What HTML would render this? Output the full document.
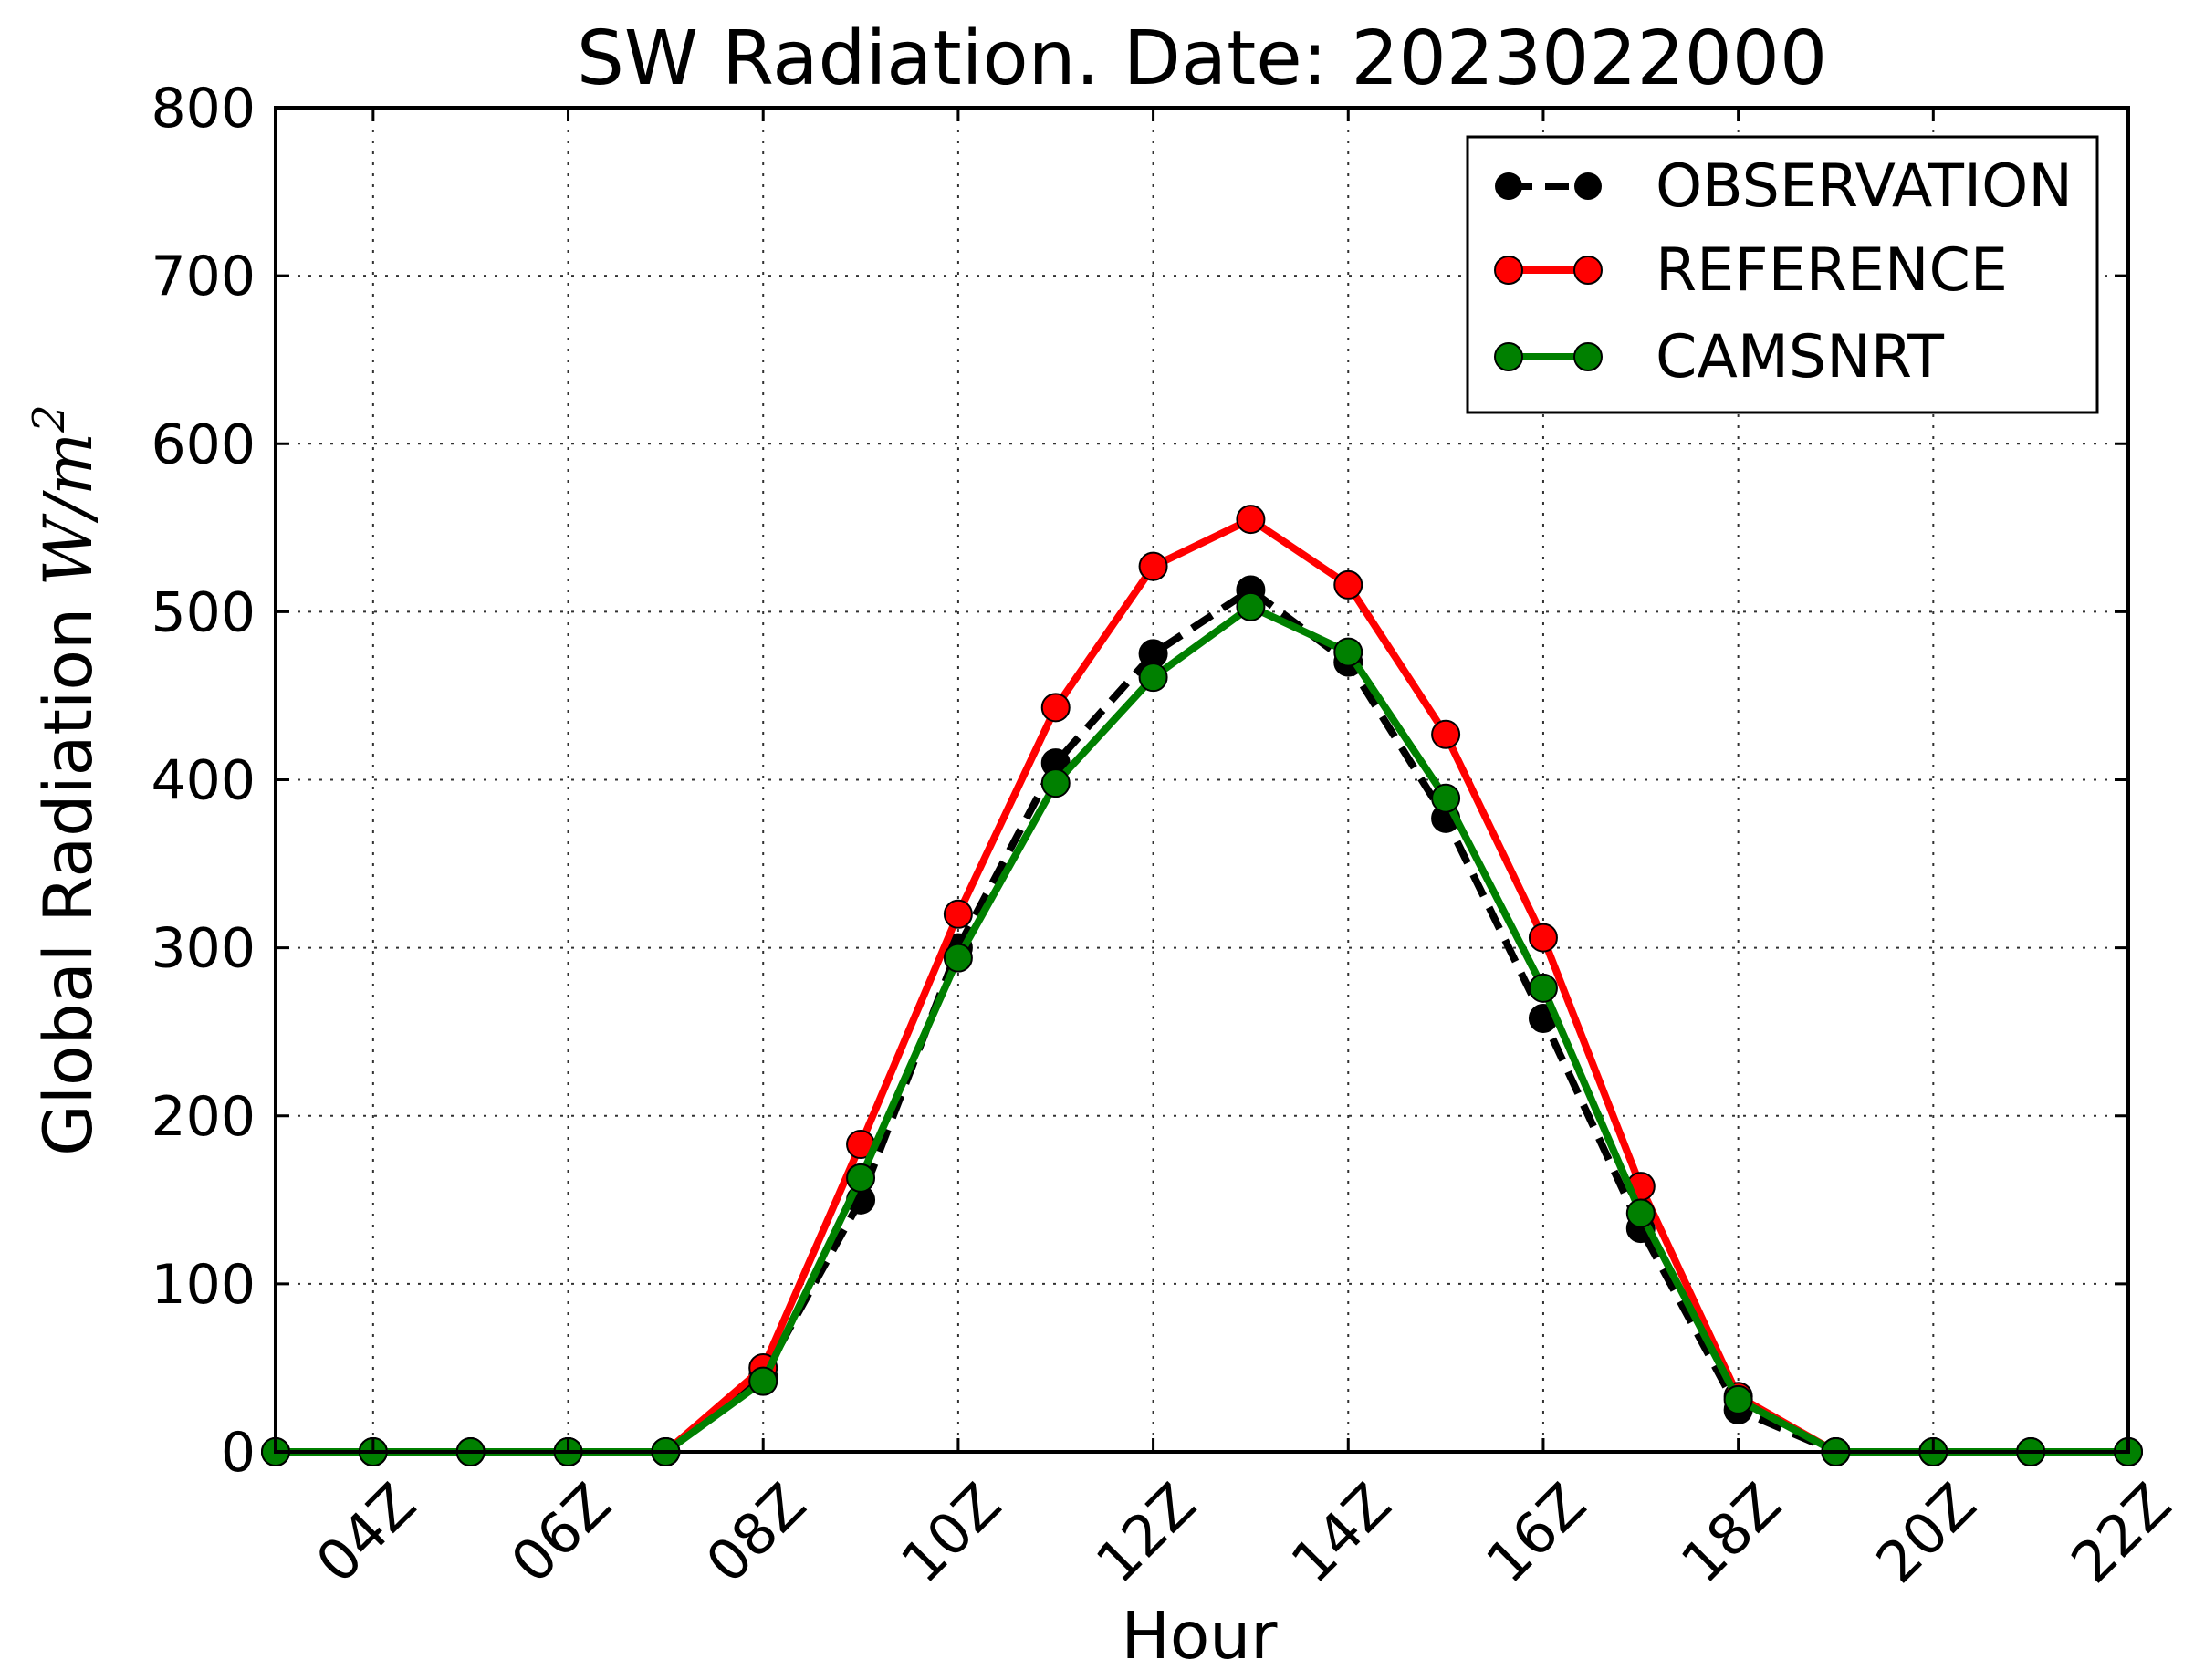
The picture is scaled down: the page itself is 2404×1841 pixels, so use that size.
<!DOCTYPE html>
<html><head><meta charset="utf-8"><style>html,body{margin:0;padding:0;background:#fff}svg{display:block}</style></head>
<body>
<svg id="s" width="2404" height="1841" xmlns="http://www.w3.org/2000/svg" font-family="'DejaVu Sans','Liberation Sans',sans-serif">
<rect width="2404" height="1841" fill="#fff"/>
<g id="grid" stroke="#000" stroke-width="2" stroke-dasharray="3,9" opacity="0.8"></g>
<g id="series"></g>
<rect x="302" y="118" width="2030" height="1473" fill="none" stroke="#000" stroke-width="4"/>
<g id="ticks" stroke="#000" stroke-width="3"></g>
<g id="labels" font-size="60" fill="#000"></g>
<text x="1317" y="92" font-size="82" text-anchor="middle">SW Radiation. Date: 2023022000</text>
<text x="1314" y="1817" font-size="71" text-anchor="middle">Hour</text>
<text transform="translate(100,855) rotate(-90)" font-size="73" text-anchor="middle">Global Radiation <tspan font-family="'DejaVu Serif',serif" font-style="italic">W/m</tspan><tspan font-family="'DejaVu Serif',serif" font-style="italic" font-size="48" dy="-30">2</tspan></text>
<g>
<rect x="1608" y="150" width="690" height="302" fill="#fff" stroke="#000" stroke-width="3"/>
<line x1="1653" y1="204" x2="1740" y2="204" stroke="#000" stroke-width="8" stroke-dasharray="26,14"/>
<circle cx="1653" cy="204" r="15" fill="#000"/><circle cx="1740" cy="204" r="15" fill="#000"/>
<line x1="1653" y1="296" x2="1740" y2="296" stroke="#f00" stroke-width="8"/>
<circle cx="1653" cy="296" r="15" fill="#f00" stroke="#000" stroke-width="2"/><circle cx="1740" cy="296" r="15" fill="#f00" stroke="#000" stroke-width="2"/>
<line x1="1653" y1="391" x2="1740" y2="391" stroke="#008000" stroke-width="8"/>
<circle cx="1653" cy="391" r="15" fill="#008000" stroke="#000" stroke-width="2"/><circle cx="1740" cy="391" r="15" fill="#008000" stroke="#000" stroke-width="2"/>
<text x="1814" y="226" font-size="65">OBSERVATION</text>
<text x="1814" y="318" font-size="65">REFERENCE</text>
<text x="1814" y="413" font-size="65">CAMSNRT</text>
</g>
</svg>
<script>
var NS="http://www.w3.org/2000/svg";
function X(h){return 302+(h-3)*2030/19}
function Y(v){return 1591-v*1473/800}
function el(p,t,a,txt){var e=document.createElementNS(NS,t);for(var k in a)e.setAttribute(k,a[k]);if(txt!=null)e.textContent=txt;document.getElementById(p).appendChild(e);return e}
for(var v=100;v<800;v+=100){el('grid','line',{x1:302,x2:2332,y1:Y(v),y2:Y(v)})}
for(var h=4;h<22;h+=2){el('grid','line',{x1:X(h),x2:X(h),y1:118,y2:1591})}
for(var v=0;v<=800;v+=100){el('ticks','line',{x1:302,x2:317,y1:Y(v),y2:Y(v)});el('ticks','line',{x1:2317,x2:2332,y1:Y(v),y2:Y(v)});
el('labels','text',{x:280,y:Y(v)+21,'text-anchor':'end'},String(v))}
for(var h=4;h<=22;h+=2){el('ticks','line',{x1:X(h),x2:X(h),y1:1576,y2:1591});el('ticks','line',{x1:X(h),x2:X(h),y1:118,y2:133});
var lab=(h<10?'0':'')+h+'Z';el('labels','text',{transform:'translate('+(X(h)-8)+',1680) rotate(-45)','text-anchor':'middle','dominant-baseline':'central','font-size':62},lab)}
var obs=[0,0,0,0,0,45,150,300,410,475,513,470,377,258,133,25,0,0,0,0];
var ref=[0,0,0,0,0,50,183,320,443,527,555,516,427,306,158,33,0,0,0,0];
var cam=[0,0,0,0,0,42,163,294,398,461,503,476,389,276,142,31,0,0,0,0];
function draw(d,col,dash){var pts=d.map(function(v,i){return X(i+3)+','+Y(v)}).join(' ');
var a={points:pts,fill:'none',stroke:col,'stroke-width':8,'stroke-linejoin':'round'};if(dash)a['stroke-dasharray']='26,14';
el('series','polyline',a);d.forEach(function(v,i){el('series','circle',{cx:X(i+3),cy:Y(v),r:15,fill:col,stroke:'#000','stroke-width':2})})}
draw(obs,'#000',true);draw(ref,'#f00');draw(cam,'#008000');
</script>
</body></html>
